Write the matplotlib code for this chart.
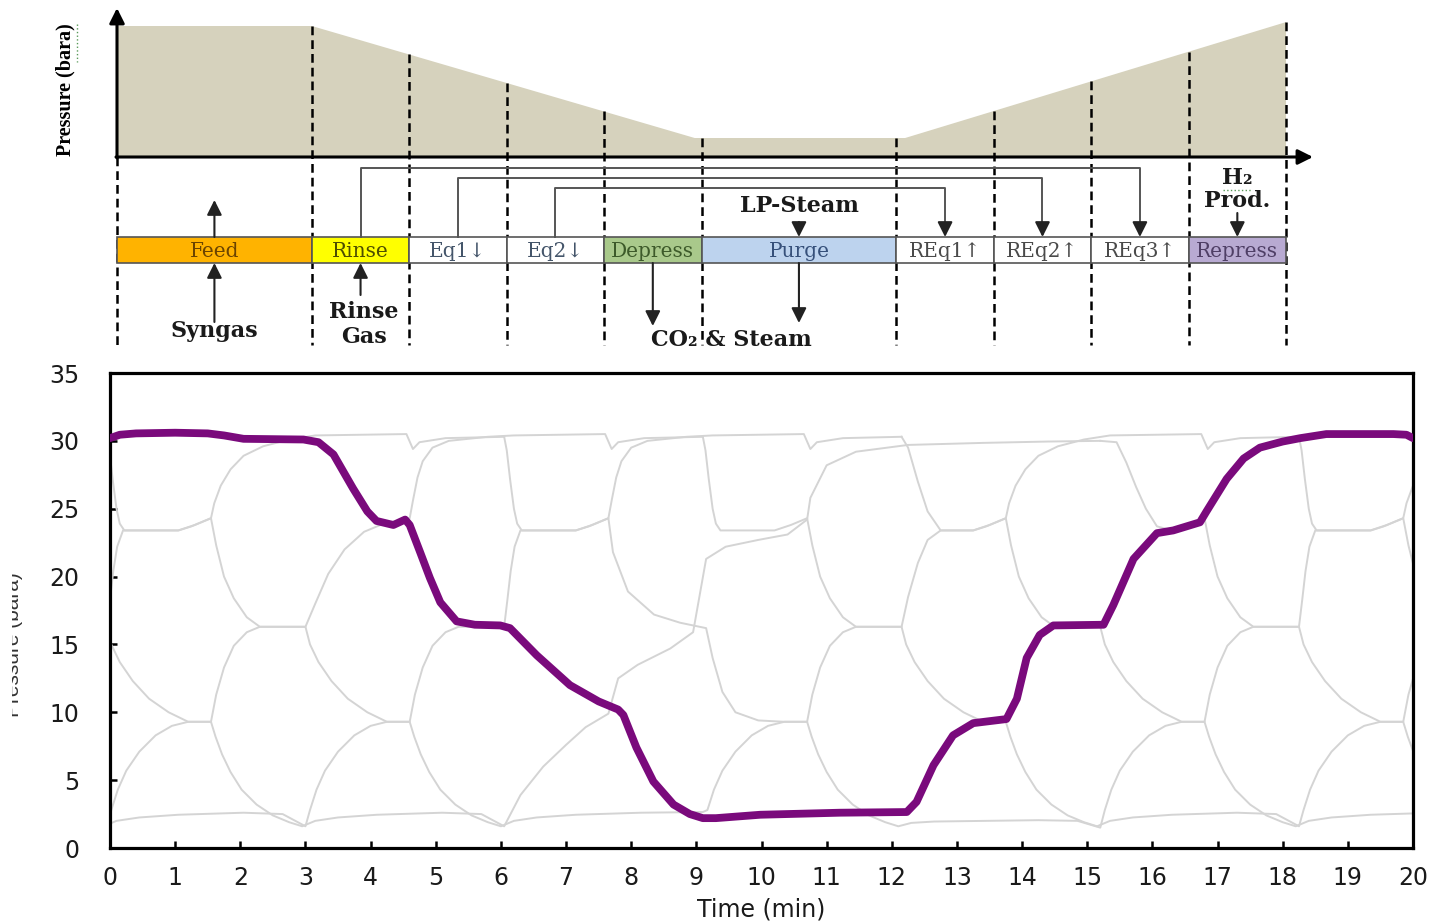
import numpy as np
import matplotlib
matplotlib.use('Agg')
import matplotlib.pyplot as plt
from matplotlib.patches import Rectangle, Polygon
from matplotlib.transforms import Bbox

W, H = 1435, 922

# ---- cycle sketch: step sequence, widths in sketch units ----
step_names = ['Feed', 'Rinse', 'Eq1\u2193', 'Eq2\u2193', 'Depress', 'Purge',
              'REq1\u2191', 'REq2\u2191', 'REq3\u2191', 'Repress']
step_units = [2, 1, 1, 1, 1, 2, 1, 1, 1, 1]
step_colors = ['#FFB300', '#FFFF00', 'white', 'white', '#A9C98B', '#BDD3EE',
               'white', 'white', 'white', '#B8AAD2']
step_text_colors = ['#6B4400', '#4D4D00', '#44556A', '#44556A', '#3D5A2A',
                    '#36507A', '#4A4A4A', '#4A4A4A', '#4A4A4A', '#4F3F66']

# relative pressure of the sketched profile at its corner points
sketch_u = [0, 2, 5.93, 8.09, 12]
sketch_p = [1.0, 1.0, 0.145, 0.145, 1.03]

# equalisation links: (from step, to step)
eq_links = [(1, 8), (2, 7), (3, 6)]

# ---- highlighted bed: pressure (bara) vs time (min) ----
purple_t = [0.00, 0.15, 0.40, 1.00, 1.50, 1.75, 2.05, 2.97, 3.20, 3.43,
            3.73, 3.95, 4.09, 4.35, 4.53, 4.60, 4.76, 4.91, 5.07, 5.32,
            5.60, 5.99, 6.14, 6.55, 7.06, 7.50, 7.80, 7.88, 8.08, 8.34,
            8.65, 8.90, 9.10, 9.30, 9.98, 11.20, 12.23, 12.38, 12.64, 12.94,
            13.25, 13.76, 13.92, 14.07, 14.27, 14.48, 15.25, 15.40, 15.71, 16.07,
            16.32, 16.73, 16.83, 17.14, 17.40, 17.65, 18.00, 18.27, 18.67, 19.70,
            19.90, 20.00]
purple_p = [30.2, 30.45, 30.55, 30.6, 30.55, 30.4, 30.15, 30.1, 29.9, 29.0,
            26.5, 24.8, 24.1, 23.8, 24.2, 23.8, 21.8, 19.9, 18.1, 16.7,
            16.45, 16.4, 16.2, 14.2, 12.0, 10.8, 10.2, 9.8, 7.4, 4.9,
            3.2, 2.5, 2.2, 2.2, 2.45, 2.6, 2.65, 3.4, 6.1, 8.3,
            9.2, 9.5, 11.0, 14.0, 15.7, 16.4, 16.45, 17.9, 21.3, 23.2,
            23.4, 24.0, 24.8, 27.2, 28.7, 29.5, 29.95, 30.2, 30.5, 30.5,
            30.45, 30.2]

# ---- other beds: step shapes as (min after start of Eq1, bara) ----
eq1_fast = [(0.00, 30.3), (0.04, 29.3), (0.09, 27.2), (0.15, 25.0), (0.20, 23.9), (0.27, 23.4)]
eq1_mid = [(0.00, 30.3), (0.10, 29.5), (0.25, 27.0), (0.40, 24.8), (0.60, 23.4)]
eq1_slow = [(0.00, 30.0), (0.25, 29.9), (0.40, 28.4), (0.55, 26.6), (0.70, 25.0), (0.87, 23.7)]
hold1 = [(1.10, 23.4), (1.35, 23.8), (1.60, 24.3)]
eq2 = [(1.68, 22.3), (1.80, 20.0), (1.95, 18.4), (2.15, 17.0), (2.35, 16.3), (3.05, 16.3)]
eq2_slow = [(1.67, 21.8), (1.90, 18.9), (2.30, 17.2), (2.70, 16.6), (3.10, 16.2)]
eq3 = [(3.12, 15.0), (3.25, 13.7), (3.45, 12.3), (3.70, 11.0), (4.00, 10.0), (4.30, 9.3), (4.65, 9.3)]
eq3_fast = [(3.20, 14.0), (3.35, 11.5), (3.55, 10.0), (3.90, 9.4), (4.30, 9.3), (4.65, 9.3)]
depress = [(4.72, 8.2), (4.82, 6.9), (4.95, 5.6), (5.12, 4.3), (5.35, 3.2), (5.60, 2.4),
           (5.85, 1.9), (6.05, 1.6)]
purge = [(6.25, 2.0), (6.60, 2.25), (7.20, 2.45), (8.20, 2.6), (8.80, 2.5), (9.15, 1.6)]
purge_flat = [(6.25, 2.0), (6.60, 2.25), (7.20, 2.45), (8.20, 2.6), (9.15, 2.65)]
purge_low = [(6.25, 1.85), (6.60, 1.95), (8.20, 2.05), (8.80, 2.0), (9.15, 1.5)]
req1 = [(9.22, 2.8), (9.32, 4.3), (9.45, 5.7), (9.65, 7.1), (9.90, 8.3), (10.15, 9.0),
        (10.40, 9.3), (10.75, 9.3)]
req1_slow = [(9.40, 3.9), (9.75, 6.0), (10.10, 7.6), (10.40, 8.9), (10.75, 9.9)]
req2 = [(10.83, 11.3), (10.95, 13.3), (11.10, 14.9), (11.30, 15.9), (11.50, 16.3), (12.20, 16.3)]
req2_slow = [(10.90, 12.5), (11.20, 13.5), (11.70, 14.7), (12.05, 15.9)]
req3_fast = [(12.25, 18.3), (12.30, 20.4), (12.36, 22.2), (12.45, 23.4)]
req3_mid = [(12.30, 18.5), (12.45, 21.0), (12.60, 22.7), (12.80, 23.4)]
req3_slow = [(12.35, 18.0), (12.55, 20.2), (12.80, 22.0), (13.10, 23.3), (13.40, 23.9),
             (13.80, 24.3)]
req3_late = [(12.25, 21.3), (12.55, 22.2), (13.05, 22.7), (13.50, 23.1), (13.80, 24.2)]
hold3 = [(13.30, 23.4), (13.50, 23.7), (13.80, 24.3)]
repress_slow = [(13.85, 25.4), (13.95, 26.7), (14.10, 27.9), (14.30, 28.9), (14.60, 29.6),
                (15.00, 30.1), (15.40, 30.4)]
repress_fast = [(13.85, 25.6), (13.92, 27.3), (14.00, 28.5), (14.15, 29.5), (14.40, 30.0),
                (15.00, 30.3), (15.40, 30.4)]
repress_creep = [(13.85, 25.8), (14.10, 28.2), (14.55, 29.2), (15.35, 29.7), (16.50, 29.85),
                 (17.50, 29.95), (18.30, 30.0)]
feed = [(16.80, 30.5), (16.90, 29.4), (17.00, 29.9), (17.40, 30.2), (18.30, 30.3)]

cycle_min = 18.3
# (start of Eq1 in min, sequence of step shapes)
gray_beds = [
    (-0.05, [eq1_fast, hold1, eq2, eq3, depress, purge_flat, req1, req2, req3_mid,
             hold3, repress_slow, feed]),
    (9.10, [eq1_fast, hold1, eq2, eq3, depress, purge, req1, req2, req3_slow,
            repress_fast, feed]),
    (15.20, [eq1_slow, hold1, eq2, eq3, depress, purge, req1_slow, req2_slow,
             req3_late, repress_creep]),
    (6.05, [eq1_fast, hold1, eq2_slow, eq3_fast, depress, purge_low, req1, req2,
            req3_fast, hold3, repress_slow, feed]),
    (12.15, [eq1_mid, hold1, eq2, eq3, depress, purge, req1, req2, req3_fast,
             hold3, repress_fast, feed]),
]

fig = plt.figure(figsize=(W / 100, H / 100), dpi=100)

# ---------------- sketch (pixel coordinates) ----------------
sk = fig.add_axes([0, 0, 1, 1])
sk.set_xlim(0, W)
sk.set_ylim(H, 0)
sk.axis('off')

X0, UNIT = 117, 97.42
BASE_Y, P_H = 157, 131
BAR_TOP, BAR_H = 237, 26
DASH_END = 345


def ux(u):
    return X0 + u * UNIT


def py(p):
    return BASE_Y - p * P_H


bounds = np.concatenate([[0], np.cumsum(step_units)])
centers = [(ux(a) + ux(b)) / 2 for a, b in zip(bounds[:-1], bounds[1:])]

poly = [(ux(u), py(p)) for u, p in zip(sketch_u, sketch_p)]
poly += [(ux(sketch_u[-1]), BASE_Y), (ux(0), BASE_Y)]
sk.add_patch(Polygon(poly, closed=True, fc='#D6D2BD', ec='none', zorder=1))

for b in bounds:
    top = BASE_Y if b == 0 else py(np.interp(b, sketch_u, sketch_p))
    sk.plot([ux(b), ux(b)], [top, DASH_END], color='black', lw=1.8,
            ls=(0, (3.5, 2)), zorder=2)

arrow_kw = dict(arrowstyle='-|>,head_length=0.6,head_width=0.3',
                color='#222222', lw=1.5, shrinkA=0, shrinkB=0,
                mutation_scale=15)


def arrow(x, y_from, y_to, lw=1.5):
    kw = dict(arrow_kw, lw=lw)
    sk.annotate('', xy=(x, y_to), xytext=(x, y_from), arrowprops=kw, zorder=4)


# axes of the sketch
sk.annotate('', xy=(X0, 8), xytext=(X0, BASE_Y + 1),
            arrowprops=dict(arrow_kw, lw=2.2, color='black'), zorder=4)
sk.annotate('', xy=(1313, BASE_Y), xytext=(X0 - 1, BASE_Y),
            arrowprops=dict(arrow_kw, lw=2.2, color='black'), zorder=4)
sk.text(65, 90, 'Pressure (bara)', rotation=90, ha='center', va='center',
        family=['Liberation Serif', 'DejaVu Serif'], weight='bold', size=14.5)
sk.plot([77, 77], [24, 62], color='#5A9A5A', ls=':', lw=1)

# step bar
for i, name in enumerate(step_names):
    a, b = ux(bounds[i]), ux(bounds[i + 1])
    sk.add_patch(Rectangle((a, BAR_TOP), b - a, BAR_H, fc=step_colors[i],
                           ec='#555555', lw=1.2, zorder=3))
    sk.text(centers[i], BAR_TOP + BAR_H / 2 + 1, name, ha='center', va='center',
            family=['DejaVu Serif', 'DejaVu Sans'], size=14.5,
            color=step_text_colors[i], zorder=5)

# equalisation links
for k, (src, dst) in enumerate(eq_links):
    yh = 168 + 10 * k
    sk.plot([centers[src], centers[src], centers[dst], centers[dst]],
            [BAR_TOP, yh, yh, BAR_TOP - 12], color='#555555', lw=1.4, zorder=3)
    arrow(centers[dst], BAR_TOP - 14, BAR_TOP)

# feeds and products
bold = dict(family=['DejaVu Serif', 'DejaVu Sans'], weight='bold', size=16,
            color='#1A1A1A', ha='center', va='center')
arrow(centers[0], BAR_TOP, 200)
arrow(centers[0], 322, BAR_TOP + BAR_H)
sk.text(centers[0], 331, 'Syngas', **bold)
arrow(centers[1], 295, BAR_TOP + BAR_H)
sk.text(centers[1] + 3, 312, 'Rinse', **bold)
sk.text(centers[1] + 3, 337, 'Gas', **bold)
arrow(centers[4], BAR_TOP + BAR_H, 326)
arrow(centers[5], BAR_TOP + BAR_H, 323)
sk.text(731, 340, 'CO\u2082 & Steam', **bold)
sk.text(centers[5], 206, 'LP-Steam', **bold)
arrow(centers[5], 222, BAR_TOP)
sk.text(centers[9], 178, 'H\u2082', **bold)
sk.plot([1223, 1252], [190, 190], color='#5A9A5A', ls=':', lw=1)
sk.text(centers[9], 201, 'Prod.', **bold)
arrow(centers[9], 213, BAR_TOP)

# ---------------- pressure history ----------------
ax = fig.add_axes([110 / W, (H - 848) / H, 1303 / W, 475 / H])
for start, steps in gray_beds:
    tau, p = np.array([pt for seg in steps for pt in seg]).T
    for n in (-1, 0, 1):
        ax.plot(tau + start + n * cycle_min, p, color='#D4D4D4', lw=1.4,
                zorder=2)
ax.plot(purple_t, purple_p, color='#7A0A7C', lw=5.6, zorder=3,
        solid_capstyle='round', solid_joinstyle='round')

ax.set_xlim(0, 20)
ax.set_ylim(0, 35)
ax.set_xticks(range(0, 21))
ax.set_yticks(range(0, 36, 5))
ax.tick_params(direction='in', length=5, width=1.8, color='black',
               labelsize=17, labelcolor='#1A1A1A')
ax.tick_params(axis='x', pad=13)
ax.tick_params(axis='y', pad=22)
for lab in ax.get_xticklabels() + ax.get_yticklabels():
    lab.set_family('DejaVu Sans')
for s in ax.spines.values():
    s.set_linewidth(2.3)
    s.set_color('black')
ax.set_xlabel('Time (min)', fontsize=17, color='#1A1A1A', labelpad=5,
              family='DejaVu Sans')

ylab = fig.text(14 / W, 1 - 645 / H, 'Pressure (bara)', rotation=90,
                ha='center', va='center', family='Liberation Sans', size=15,
                color='#333333')
ylab.set_clip_on(True)
ylab.set_clip_box(Bbox([[12, 0], [80, H]]))

fig.savefig('out.png', dpi=100)
